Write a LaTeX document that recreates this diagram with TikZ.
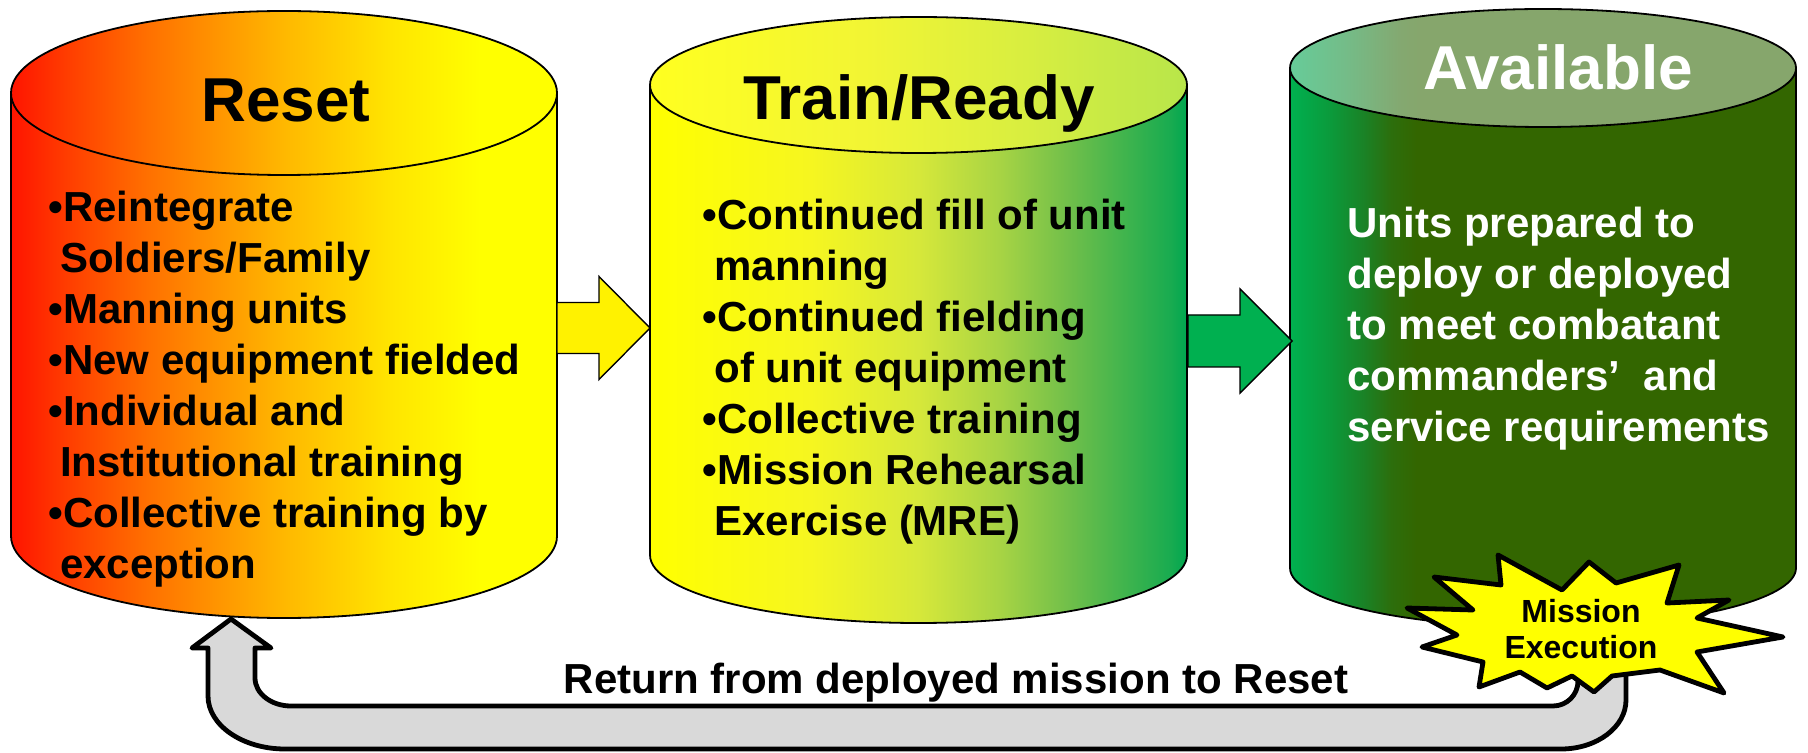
\documentclass[tikz,border=0pt]{standalone}
\usepackage{fontspec}
\setmainfont{Liberation Sans}
\usetikzlibrary{calc}

\definecolor{rs0}{HTML}{FF1400}
\definecolor{rs1}{HTML}{FF3C00}
\definecolor{rs2}{HTML}{FF7000}
\definecolor{rs3}{HTML}{FFB800}
\definecolor{rs4}{HTML}{FFE600}
\definecolor{rs5}{HTML}{FFFF00}
\definecolor{ts0}{HTML}{FFFF00}
\definecolor{ts1}{HTML}{F6F620}
\definecolor{ts2}{HTML}{D6E83A}
\definecolor{ts3}{HTML}{A8D444}
\definecolor{ts4}{HTML}{70BF4A}
\definecolor{ts5}{HTML}{18AB50}
\definecolor{ts6}{HTML}{00A650}
\definecolor{tt0}{HTML}{FFFF20}
\definecolor{tt1}{HTML}{F2F534}
\definecolor{tt2}{HTML}{D8EE40}
\definecolor{tt3}{HTML}{B8E64A}
\definecolor{ab0}{HTML}{00B050}
\definecolor{ab1}{HTML}{0B9A3B}
\definecolor{ab2}{HTML}{1A8226}
\definecolor{ab3}{HTML}{2C6E0C}
\definecolor{ab4}{HTML}{336600}
\definecolor{at0}{HTML}{66CC99}
\definecolor{at1}{HTML}{74BC88}
\definecolor{at2}{HTML}{84A870}
\definecolor{at3}{HTML}{86A66C}
\definecolor{arrowgreen}{HTML}{00B050}
\definecolor{returngray}{HTML}{D9D9D9}
\definecolor{burstyellow}{HTML}{FFFF00}

\pgfdeclarehorizontalshading{resetshade}{100bp}{color(0bp)=(rs0); color(25bp)=(rs0); color(30bp)=(rs1); color(37.5bp)=(rs2); color(50bp)=(rs3); color(60bp)=(rs4); color(68bp)=(rs5); color(100bp)=(rs5)}
\pgfdeclarehorizontalshading{trainshade}{100bp}{color(0bp)=(ts0); color(25bp)=(ts0); color(40bp)=(ts1); color(50bp)=(ts2); color(57.5bp)=(ts3); color(64bp)=(ts4); color(73.5bp)=(ts5); color(75bp)=(ts6); color(100bp)=(ts6)}
\pgfdeclarehorizontalshading{traintopshade}{100bp}{color(0bp)=(tt0); color(25bp)=(tt0); color(45bp)=(tt1); color(60bp)=(tt2); color(75bp)=(tt3); color(100bp)=(tt3)}
\pgfdeclarehorizontalshading{availshade}{100bp}{color(0bp)=(ab0); color(25bp)=(ab0); color(29bp)=(ab1); color(32.3bp)=(ab2); color(35bp)=(ab3); color(37.5bp)=(ab4); color(100bp)=(ab4)}
\pgfdeclarehorizontalshading{availtopshade}{100bp}{color(0bp)=(at0); color(25bp)=(at0); color(30.5bp)=(at1); color(36bp)=(at2); color(38bp)=(at3); color(100bp)=(at3)}

\tikzset{
  cylline/.style={draw=black, line width=0.9pt},
  blockarrow/.style={draw=black, line width=0.7pt, line join=miter},
  returnarrow/.style={draw=black, fill=returngray, line width=2.4pt, line join=round},
  burst/.style={draw=black, fill=burstyellow, line width=2.4pt, line join=round},
  titletext/.style={anchor=base, inner sep=0, font=\fontsize{31}{37}\selectfont\bfseries},
  listtext/.style={anchor=base west, inner sep=0},
}
\newcommand{\listfont}{\fontsize{21}{25.5}\selectfont\bfseries}
\newcommand{\hang}{\hspace*{0.278em}}

\begin{document}
\begin{tikzpicture}[x=0.5pt, y=-0.5pt]
\useasboundingbox (0,0) rectangle (1808,753);
\fill[white] (0,0) rectangle (1808,753);

% Reset cylinder
\shadedraw[cylline, shading=resetshade] (11,93) -- (11,536) arc[start angle=180, end angle=0, x radius=273, y radius=82] -- (557,93) -- cycle;
\shadedraw[cylline, shading=resetshade] (284,93) ellipse[x radius=273, y radius=82];

% Train/Ready cylinder
\shadedraw[cylline, shading=trainshade] (650,85) -- (650,555) arc[start angle=180, end angle=0, x radius=268.5, y radius=68] -- (1187,85) -- cycle;
\shadedraw[cylline, shading=traintopshade] (918.5,85) ellipse[x radius=268.5, y radius=68];

% Available cylinder
\shadedraw[cylline, shading=availshade] (1290,68) -- (1290,568) arc[start angle=180, end angle=0, x radius=253, y radius=59] -- (1796,68) -- cycle;
\shadedraw[cylline, shading=availtopshade] (1543,68) ellipse[x radius=253, y radius=59];

% titles
\node[titletext] (resettitle) at (286,122) {Reset};
\node[titletext] (traintitle) at (919,120) {Train/Ready};
\node[titletext, text=white] (availtitle) at (1558,90) {Available};

% lists
\node[listtext] (resetlist) at (48,222) {\parbox[t]{280pt}{\raggedright\listfont
•Reintegrate\\
\hang Soldiers/Family\\
•Manning units\\
•New equipment fielded\\
•Individual and\\
\hang Institutional training\\
•Collective training by\\
\hang exception}};

\node[listtext] (trainlist) at (702.5,230) {\parbox[t]{260pt}{\raggedright\listfont
•Continued fill of unit\\
\hang manning\\
•Continued fielding\\
\hang of unit equipment\\
•Collective training\\
•Mission Rehearsal\\
\hang Exercise (MRE)}};

\node[listtext, text=white] (availtext) at (1347,238) {\parbox[t]{240pt}{\raggedright\listfont
Units prepared to\\
deploy or deployed\\
to meet combatant\\
commanders’\hspace{0.556em}and\\
service requirements}};

% block arrows
\coordinate (resetE) at (557,328);
\coordinate (trainW) at (650,328);
\coordinate (trainE) at (1188,341);
\coordinate (availW) at (1292,341);
\draw[blockarrow, fill=yellow] (resetE) ++(0,-25.5) -- ++(42,0) -- ++(0,-26) -- (trainW) -- ++(-51,51.5) -- ++(0,-26) -- ++(-42,0) -- cycle;
\draw[blockarrow, fill=arrowgreen] (trainE) ++(0,-26) -- ++(52,0) -- ++(0,-26) -- (availW) -- ++(-52,52) -- ++(0,-26) -- ++(-52,0) -- cycle;

% return arrow
\coordinate (resetS) at (231,619);
\coordinate (missionS) at (1602,640);
\draw[returnarrow] (resetS) -- (271,648) -- (255,648) -- (255,678)
  arc[start angle=180, end angle=90, x radius=36, y radius=28]
  -- (1553,706) arc[start angle=90, end angle=0, x radius=25, y radius=25]
  -- (1578,640) -- (missionS) -- (1626,640) -- (1626,700)
  arc[start angle=0, end angle=90, x radius=65, y radius=49]
  -- (285,749) arc[start angle=90, end angle=180, x radius=77, y radius=53]
  -- (208,648) -- (192,648) -- cycle;

\node[anchor=base, inner sep=0, font=\fontsize{21}{25}\selectfont\bfseries] (returnlabel) at (956,693) {Return from deployed mission to Reset};

% starburst
\draw[burst] (1498,555) -- (1562,590) -- (1589,562) -- (1616,583) -- (1679,565) -- (1667,603)
  -- (1729,600) -- (1697,618) -- (1783,637) -- (1697,652) -- (1724,693) -- (1660,670)
  -- (1612,676) -- (1594,692) -- (1572,676) -- (1547,688) -- (1520,672) -- (1479,687)
  -- (1483,662) -- (1422,647) -- (1457,635) -- (1407,608) -- (1473,610) -- (1434,577)
  -- (1501,585) -- cycle;
\node[anchor=base, inner sep=0] (mission) at (1581,622) {\fontsize{16}{18}\selectfont\bfseries\begin{tabular}[t]{@{}c@{}}Mission\\Execution\end{tabular}};

\end{tikzpicture}
\end{document}
